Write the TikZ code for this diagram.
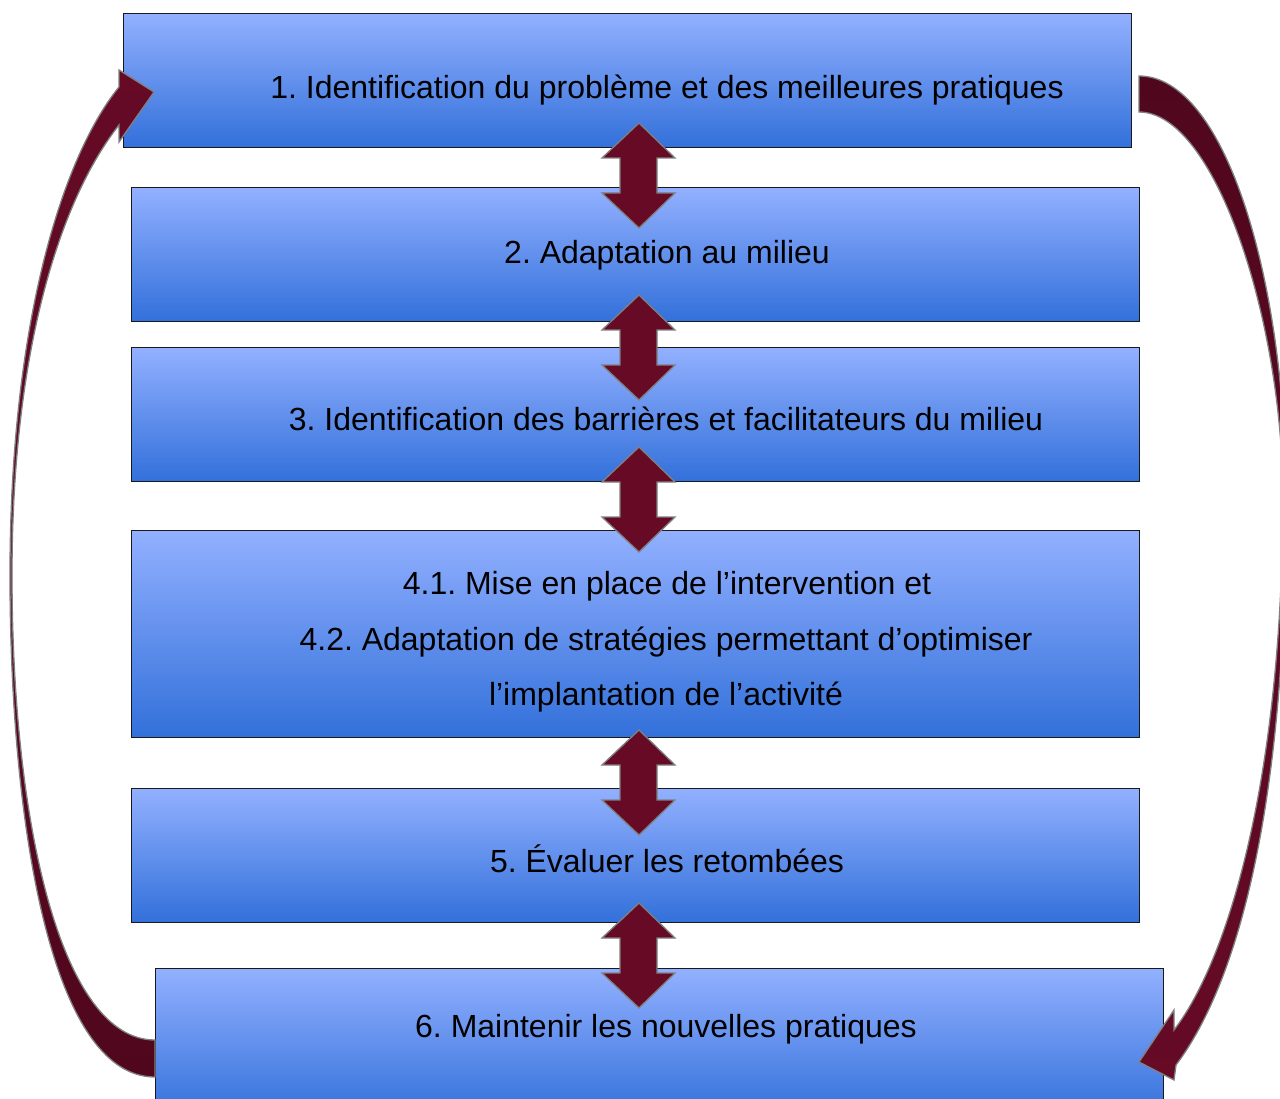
\documentclass[tikz,border=0pt]{standalone}
\usepackage{fontspec}
\setmainfont{Liberation Sans}
\definecolor{boxtop}{RGB}{146,176,255}
\definecolor{boxbot}{RGB}{50,112,218}
\definecolor{arr}{RGB}{102,10,38}
\definecolor{arrdark}{RGB}{80,7,30}
\frenchspacing
\begin{document}
\begin{tikzpicture}[x=1pt,y=-1pt,
  box/.style={draw=black!90, line width=1.2pt, top color=boxtop, bottom color=boxbot,
              inner sep=0pt, anchor=north west, minimum width=1008pt},
  lbl/.style={anchor=base, font=\fontsize{32}{38}\selectfont, inner sep=0pt},
  dblarrow/.style={fill=arr, draw=gray, line width=1.3pt, line join=miter},
  curvarrow/.style={draw=gray, line width=1.3pt, line join=miter}]
\useasboundingbox (0,0) rectangle (1280,1099);
\clip (0,0) rectangle (1280,1099);
% boxes
\node[box, minimum height=134pt] (b1) at (123,13) {};
\node[box, minimum height=134pt] (b2) at (131,187) {};
\node[box, minimum height=134pt] (b3) at (131,347) {};
\node[box, minimum height=207pt] (b4) at (131,530) {};
\node[box, minimum height=134pt] (b5) at (131,788) {};
\node[box, minimum height=150pt] (b6) at (155,968) {};
% curved arrows
\path[curvarrow, top color=arr, bottom color=arrdark]
  (155,1077) .. controls (50,1077) and (10,820) .. (10,575)
  .. controls (10,330) and (60,160) .. (119,87)
  -- (119,70) -- (154,92) -- (119,142) -- (119,125)
  .. controls (60,200) and (12,350) .. (12,575)
  .. controls (12,820) and (60,1040) .. (155,1040) -- cycle;
\path[curvarrow, top color=arrdark, bottom color=arr]
  (1139,76) .. controls (1225,76) and (1286,280) .. (1286,500)
  .. controls (1286,800) and (1240,980) .. (1176,1065)
  -- (1174,1080) -- (1139,1062) -- (1174,1010) -- (1174,1030)
  .. controls (1228,960) and (1282,780) .. (1283,500)
  .. controls (1283,320) and (1215,112) .. (1139,112) -- cycle;
% double arrows between boxes
\foreach \ty in {123,295,447,730,903}{
  \draw[dblarrow, shift={(639,\ty)}] (0,0) -- (36,35) -- (18,35) -- (18,70) -- (36,70)
    -- (0,105) -- (-37,70) -- (-19,70) -- (-19,35) -- (-37,35) -- cycle;
}
% texts
\node[lbl] (t1) at (667,99) {1. Identification du problème et des meilleures pratiques};
\node[lbl] (t2) at (667,264) {2. Adaptation au milieu};
\node[lbl] (t3) at (666,430) {3. Identification des barrières et facilitateurs du milieu};
\node[lbl] (t41) at (667,594) {4.1. Mise en place de l’intervention et};
\node[lbl] (t42) at (666,650) {4.2. Adaptation de stratégies permettant d’optimiser};
\node[lbl] (t43) at (666,705) {l’implantation de l’activité};
\node[lbl] (t5) at (667,872) {5. Évaluer les retombées};
\node[lbl] (t6) at (666,1037) {6. Maintenir les nouvelles pratiques};
\end{tikzpicture}
\end{document}
